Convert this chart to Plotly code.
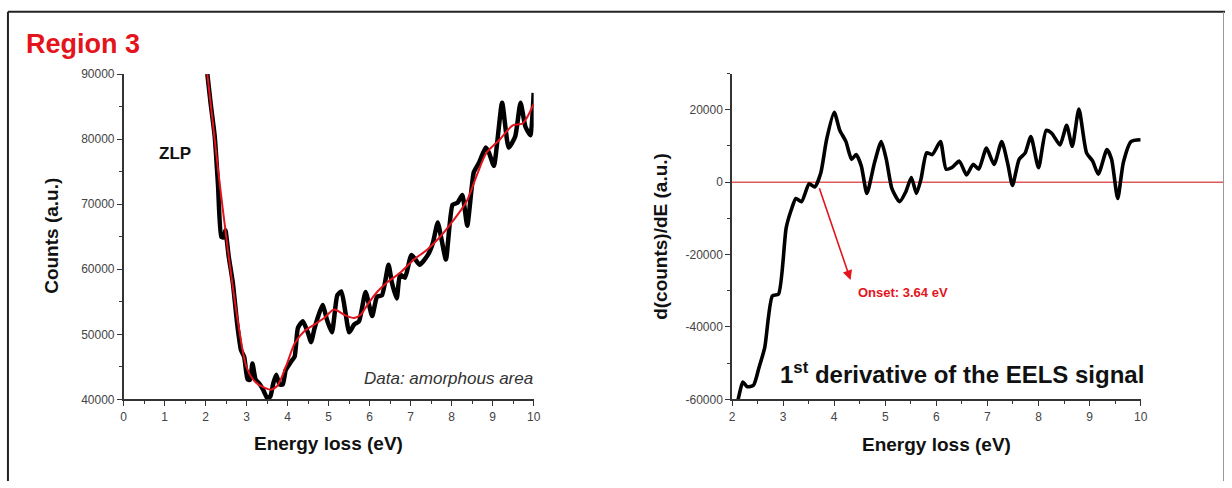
import plotly.graph_objects as go

# ---- Raw EELS spectrum (left panel) ----
energy_raw = [2.04, 2.12, 2.22, 2.30, 2.38, 2.44, 2.48, 2.56, 2.66, 2.77,
              2.86, 2.94, 3.02, 3.08, 3.14, 3.22, 3.30, 3.40, 3.51, 3.58,
              3.65, 3.72, 3.80, 3.88, 3.95, 4.00, 4.08, 4.17, 4.25, 4.37,
              4.49, 4.57, 4.65, 4.73, 4.85, 4.97, 5.08, 5.21, 5.31, 5.41,
              5.50, 5.62, 5.74, 5.90, 6.06, 6.18, 6.30, 6.46, 6.54, 6.66,
              6.74, 6.86, 7.02, 7.22, 7.42, 7.54, 7.66, 7.74, 7.86, 8.02,
              8.14, 8.26, 8.38, 8.54, 8.67, 8.83, 8.91, 9.03, 9.23, 9.39,
              9.55, 9.68, 9.80, 9.92, 10.0]
counts_raw = [90000, 85500, 80400, 73000, 65000, 64900, 66000, 62000, 58000, 51500,
              47600, 46500, 43100, 43000, 45500, 43000, 42500, 41500, 40100, 40500,
              42500, 43800, 42300, 42300, 44500, 45000, 45800, 46600, 51000, 52000,
              50300, 48800, 50800, 52500, 54500, 52000, 50300, 56000, 56600, 53300,
              50300, 51500, 52000, 56500, 52800, 55800, 56000, 60700, 58000, 55500,
              59200, 58700, 62200, 60700, 62200, 64000, 67200, 65000, 61500, 69900,
              70200, 71400, 66700, 74900, 76400, 78700, 77900, 75900, 85600, 78700,
              80400, 85600, 81900, 80600, 87100]

# ---- Smoothed spectrum ----
energy_smooth = [2.04, 2.30, 2.54, 2.79, 2.99, 3.19, 3.43, 3.59, 3.75, 3.96,
                 4.17, 4.41, 4.65, 4.89, 5.13, 5.38, 5.62, 5.78, 5.94, 6.18,
                 6.43, 6.75, 7.08, 7.40, 7.72, 8.04, 8.37, 8.61, 8.85, 9.17,
                 9.49, 9.73, 10.0]
counts_smooth = [90000, 75400, 63000, 51800, 45100, 42800, 41800, 41500, 42100, 45100,
                 48600, 50500, 51500, 52500, 53800, 53000, 52500, 53000, 54500, 56500,
                 58000, 59500, 61500, 63000, 65000, 67500, 70500, 74400, 77900, 79900,
                 82100, 82400, 85400]

# ---- First derivative (right panel) ----
energy_deriv = [2.07, 2.11, 2.21, 2.30, 2.42, 2.53, 2.64, 2.79, 2.91, 3.06,
                3.17, 3.25, 3.36, 3.51, 3.62, 3.74, 3.85, 4.00, 4.11, 4.23,
                4.34, 4.43, 4.53, 4.64, 4.79, 4.92, 5.02, 5.13, 5.28, 5.40,
                5.51, 5.61, 5.70, 5.81, 5.92, 6.08, 6.19, 6.30, 6.45, 6.59,
                6.72, 6.83, 6.98, 7.13, 7.28, 7.40, 7.49, 7.62, 7.74, 7.85,
                8.00, 8.15, 8.26, 8.42, 8.55, 8.66, 8.79, 8.94, 9.06, 9.17,
                9.34, 9.43, 9.55, 9.66, 9.81, 10.0]
deriv = [-61000, -60400, -55200, -56500, -56100, -51100, -45700, -31400, -30900, -12600,
         -7200, -4500, -5400, -450, -1350, 2700, 11700, 19300, 14300, 11200,
         6300, 7600, 4500, -3100, 5400, 11200, 6300, -1800, -5400, -2700,
         1300, -3100, 900, 8100, 7600, 11200, 3600, 4000, 5800, 2000,
         4900, 3600, 9400, 4900, 11200, 4900, -900, 6300, 8100, 12600,
         4000, 14300, 13500, 10300, 15700, 9900, 20200, 8100, 5800, 2200,
         9000, 6300, -4500, 5400, 11200, 11700]

# ---- Tick labels ----
counts_ticks = [40000, 50000, 60000, 70000, 80000, 90000]
counts_tick_text = ["40000", "50000", "60000", "70000", "80000", "90000"]
deriv_ticks = [-60000, -40000, -20000, 0, 20000]
deriv_tick_text = ["-60000", "-40000", "-20000", "0", "20000"]

onset_ev = 3.64

W, H = 1232, 488
FONT = "Liberation Sans, Arial, sans-serif"
RED = "#e3141c"
TICK_COLOR = "#444444"
AXIS_COLOR = "#333333"


def px_x(p):
    return p / W


def px_y(p):
    return (H - p) / H


fig = go.Figure()

fig.add_trace(go.Scatter(x=energy_raw, y=counts_raw, mode="lines",
                         line=dict(color="black", width=4.5, shape="spline", smoothing=0.5),
                         xaxis="x", yaxis="y", showlegend=False))
fig.add_trace(go.Scatter(x=energy_smooth, y=counts_smooth, mode="lines",
                         line=dict(color=RED, width=2, shape="spline", smoothing=0.8),
                         xaxis="x", yaxis="y", showlegend=False))
fig.add_trace(go.Scatter(x=energy_deriv, y=deriv, mode="lines",
                         line=dict(color="black", width=3.6, shape="spline", smoothing=0.6),
                         xaxis="x2", yaxis="y2", showlegend=False))

axis_common = dict(showline=True, linecolor=AXIS_COLOR, linewidth=1.5, mirror=False,
                   showgrid=False, zeroline=False, ticks="outside", ticklen=5,
                   tickwidth=1.2, tickcolor=AXIS_COLOR,
                   tickfont=dict(family=FONT, size=12, color=TICK_COLOR))

fig.update_layout(
    width=W, height=H,
    margin=dict(l=0, r=0, t=0, b=0),
    paper_bgcolor="white", plot_bgcolor="white",
    xaxis=dict(domain=[px_x(121.7), px_x(535)], range=[0, 10], dtick=1,
               minor=dict(dtick=0.5, ticks="outside", ticklen=3, tickcolor=AXIS_COLOR),
               anchor="y", **axis_common),
    yaxis=dict(domain=[px_y(404), px_y(69)], range=[40000, 90000],
               tickmode="array", tickvals=counts_ticks, ticktext=counts_tick_text,
               minor=dict(dtick=5000, tick0=0, ticks="outside", ticklen=3, tickcolor=AXIS_COLOR),
               anchor="x", **axis_common),
    xaxis2=dict(domain=[px_x(735), px_x(1147)], range=[2, 10], dtick=1,
                minor=dict(dtick=0.5, ticks="outside", ticklen=3, tickcolor=AXIS_COLOR),
                anchor="y2", **axis_common),
    yaxis2=dict(domain=[px_y(404), px_y(68.5)], range=[-60000, 30000],
                tickmode="array", tickvals=deriv_ticks, ticktext=deriv_tick_text,
                minor=dict(dtick=10000, tick0=0, ticks="outside", ticklen=3, tickcolor=AXIS_COLOR),
                anchor="x2", **axis_common),
)

shapes = [
    # zero line of the derivative, running out to the frame
    dict(type="line", xref="paper", yref="y2", x0=px_x(735), x1=px_x(1231),
         y0=0, y1=0, line=dict(color="#e05a5a", width=1.5), layer="below"),
    # outer frame
    dict(type="line", xref="paper", yref="paper", x0=px_x(5), x1=px_x(5),
         y0=0, y1=px_y(5), line=dict(color="#222222", width=2)),
    dict(type="line", xref="paper", yref="paper", x0=px_x(5), x1=px_x(1232),
         y0=px_y(5), y1=px_y(5), line=dict(color="#222222", width=2)),
    dict(type="line", xref="paper", yref="paper", x0=px_x(1230.5), x1=px_x(1230.5),
         y0=0, y1=px_y(5), line=dict(color="#9a9a9a", width=1)),
]
fig.update_layout(shapes=shapes)

annotations = [
    dict(text="<b>Region 3</b>", xref="paper", yref="paper", x=px_x(21), y=px_y(38),
         xanchor="left", yanchor="middle", showarrow=False,
         font=dict(family=FONT, size=27, color=RED)),
    dict(text="<b>ZLP</b>", xref="paper", yref="paper", x=px_x(155), y=px_y(151),
         xanchor="left", yanchor="middle", showarrow=False,
         font=dict(family=FONT, size=17, color="#111111")),
    dict(text="<i>Data: amorphous area</i>", xref="paper", yref="paper", x=px_x(536), y=px_y(382),
         xanchor="right", yanchor="middle", showarrow=False,
         font=dict(family=FONT, size=17, color="#333333")),
    dict(text="<b>Counts (a.u.)</b>", xref="paper", yref="paper", x=px_x(49), y=px_y(236),
         textangle=-90, xanchor="center", yanchor="middle", showarrow=False,
         font=dict(family=FONT, size=19, color="#111111")),
    dict(text="<b>Energy loss (eV)</b>", xref="paper", yref="paper", x=px_x(328), y=px_y(449),
         xanchor="center", yanchor="middle", showarrow=False,
         font=dict(family=FONT, size=19, color="#111111")),
    dict(text="<b>d(counts)/dE (a.u.)</b>", xref="paper", yref="paper", x=px_x(663), y=px_y(236),
         textangle=-90, xanchor="center", yanchor="middle", showarrow=False,
         font=dict(family=FONT, size=19, color="#111111")),
    dict(text="<b>Energy loss (eV)</b>", xref="paper", yref="paper", x=px_x(941), y=px_y(450),
         xanchor="center", yanchor="middle", showarrow=False,
         font=dict(family=FONT, size=19, color="#111111")),
    dict(text="<b>1<sup>st</sup> derivative of the EELS signal</b>", xref="paper", yref="paper",
         x=px_x(1152), y=px_y(377), xanchor="right", yanchor="middle", showarrow=False,
         font=dict(family=FONT, size=24, color="#111111")),
    # onset arrow
    dict(text="", xref="x2", yref="y2", x=4.32, y=-27000, axref="x2", ayref="y2",
         ax=3.70, ay=-1300, showarrow=True, arrowhead=2, arrowsize=1.2, arrowwidth=1.6,
         arrowcolor=RED),
    dict(text=f"<b>Onset: {onset_ev:.2f} eV</b>", xref="x2", yref="y2", x=4.42, y=-30500,
         xanchor="left", yanchor="middle", showarrow=False,
         font=dict(family=FONT, size=13, color=RED)),
]
fig.update_layout(annotations=annotations)

fig.write_html("out.html")
